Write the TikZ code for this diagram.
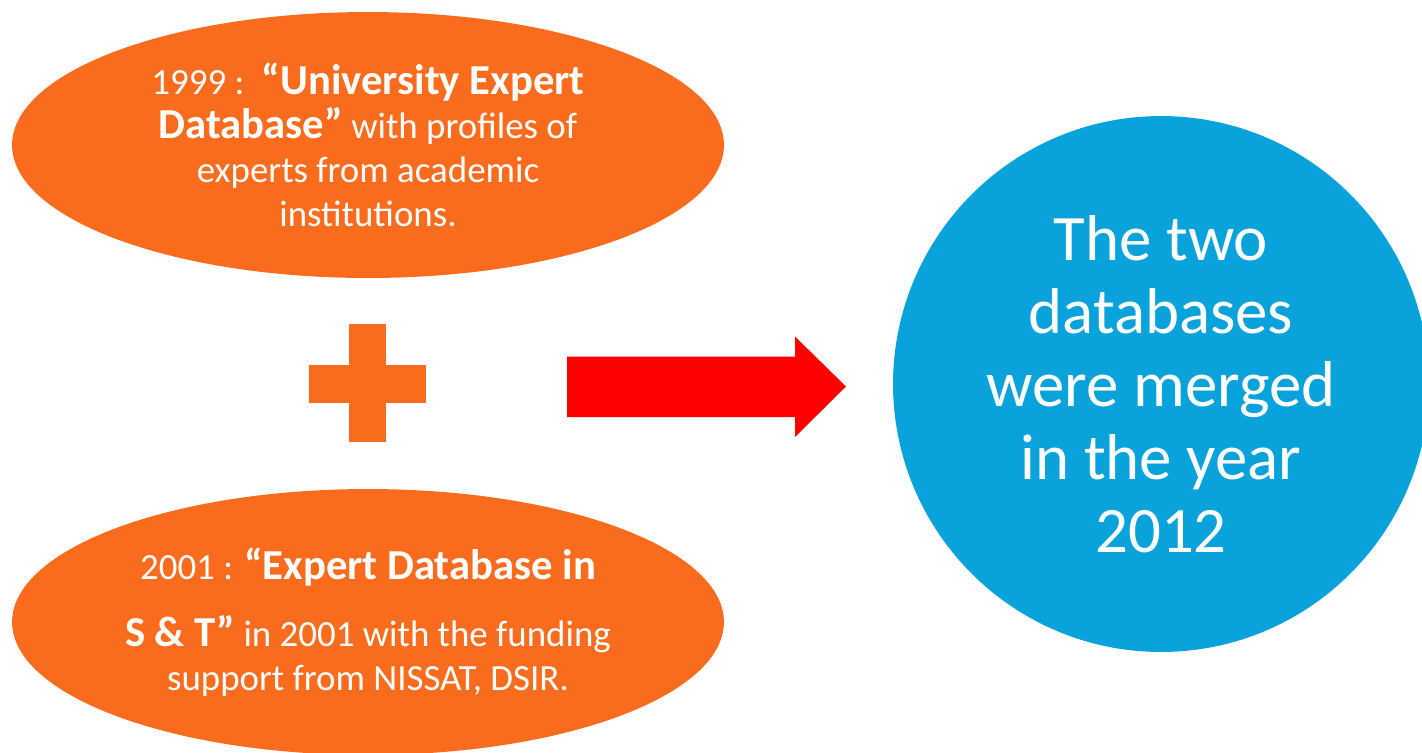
\documentclass[tikz,border=0pt]{standalone}
\usepackage{xcolor}
\usepackage{fontspec}
\setmainfont{Carlito}
\usepackage{tikz}
\usetikzlibrary{shapes.geometric, positioning}
\definecolor{blobOrange}{RGB}{249,108,30}
\definecolor{blobBlue}{RGB}{10,162,218}
\definecolor{arrowRed}{RGB}{255,0,0}
\newcommand{\keyterm}[1]{{\fontsize{24.3}{25}\selectfont\bfseries #1}}
\tikzset{
    history/.style={
        ellipse, minimum width=14.24cm, minimum height=5.32cm, inner sep=0pt,
        align=center, fill=blobOrange, text=white, font=\fontsize{21}{25}\selectfont
    },
    merged/.style={
        circle, minimum size=10.72cm, inner sep=0pt,
        align=center, fill=blobBlue, text=white, font=\fontsize{36.9}{41.5}\selectfont
    },
    plus_bar/.style={
        fill=blobOrange
    },
    merge_arrow/.style={
        fill=arrowRed
    }
}

\begin{document}
\begin{tikzpicture}[x=0.02cm, y=-0.02cm]
    \useasboundingbox (0,0) rectangle (1422,752);
    \clip (0,0) rectangle (1422,752);

    \node[history] (uni) at (368,145) {1999 :\hspace{3.5pt} \keyterm{“University Expert}\\\keyterm{Database”} with profiles of\\experts from academic\\institutions.};
    \node[history] (snt) at (368,622) {2001 : \keyterm{“Expert Database in}\\[13pt]\keyterm{S \& T”} in 2001 with the funding\\support from NISSAT, DSIR.};

    % Plus sign
    \fill[plus_bar] (349,324) rectangle (386,442);
    \fill[plus_bar] (309,365) rectangle (426,403);

    % Pfeil
    \coordinate (tail) at (567,386.5);
    \coordinate (tip) at (846,386.5);
    \fill[merge_arrow] (tail) ++(0,-30) -- ++(228,0) -- ++(0,-20) -- (tip) -- ++(-51,50.5) -- ++(0,-20) -- ++(-228,0) -- cycle;

    \node[merged] (year) at (1161,384) {The two\\databases\\were merged\\in the year\\2012};
\end{tikzpicture}
\end{document}
